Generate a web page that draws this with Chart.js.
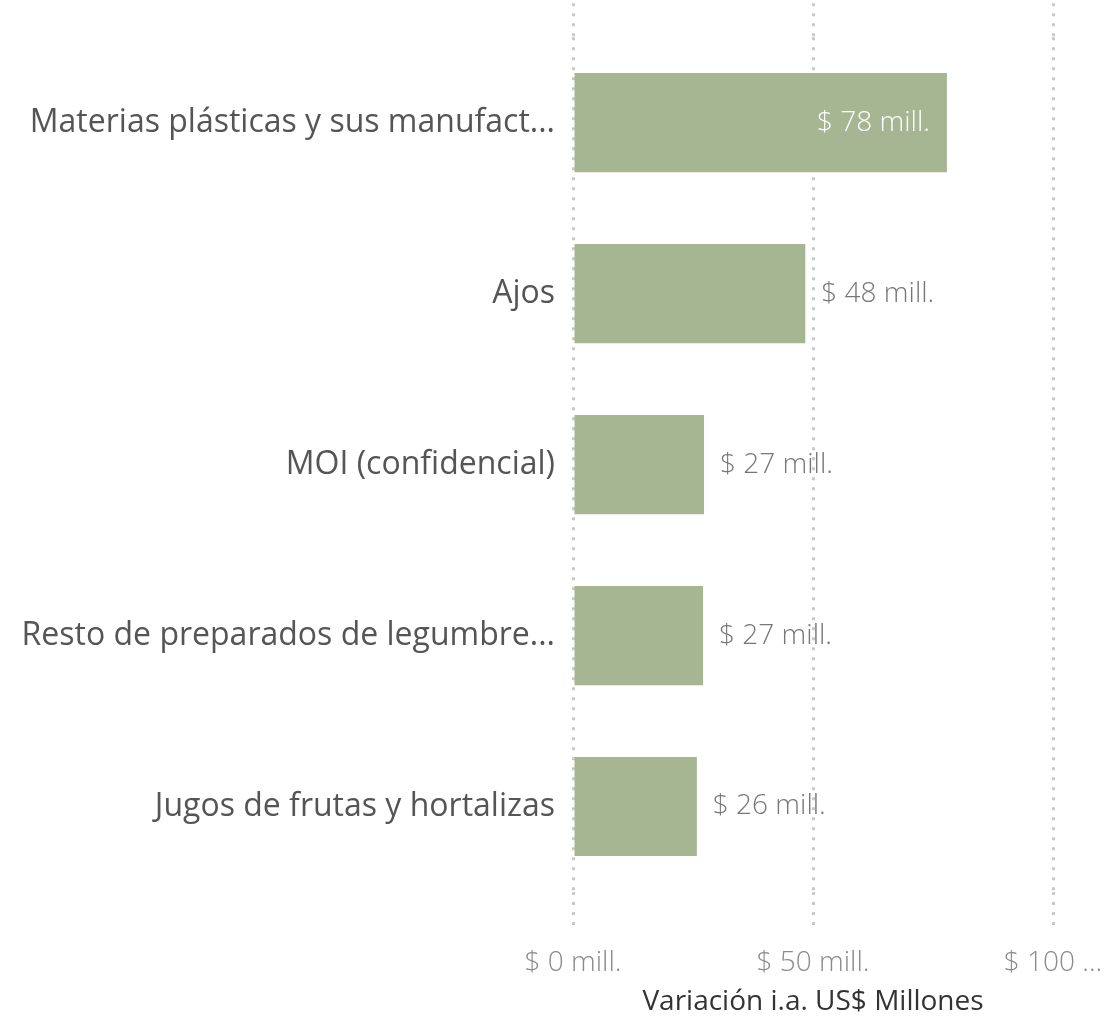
<!DOCTYPE html>
<html>
<head>
<meta charset="utf-8">
<script src="https://cdn.jsdelivr.net/npm/chart.js@4"></script>
<style>
  html, body { margin: 0; padding: 0; background: #fff; }
  #wrap { width: 1107px; height: 1016px; position: relative; }
</style>
</head>
<body>
<div id="wrap"><canvas id="chart"></canvas></div>
<script>
const categories = [
  "Materias plásticas y sus manufact...",
  "Ajos",
  "MOI (confidencial)",
  "Resto de preparados de legumbre...",
  "Jugos de frutas y hortalizas",
];
const values = [77.9, 48.4, 27.3, 27.1, 25.8];
const xTickValues = [0, 50, 100];
const xTickLabels = ["$ 0 mill.", "$ 50 mill.", "$ 100 ..."];
const axisTitle = "Variación i.a. US$ Millones";

const FONT = "Open Sans";
const BAR_COLOR = "#A6B592";
const GRID_COLOR = "#c9c9c9";
const DASH = [3, 7];

function fmtLabel(v) {
  return "$ " + Math.round(v) + " mill.";
}

// draws the "$ xx mill." labels next to / inside the bars
const barLabels = {
  id: "barLabels",
  afterDatasetsDraw(chart) {
    const ctx = chart.ctx;
    const meta = chart.getDatasetMeta(0);
    ctx.save();
    ctx.font = "300 28px '" + FONT + "'";
    ctx.textBaseline = "middle";
    meta.data.forEach((bar, i) => {
      const v = values[i];
      const text = fmtLabel(v);
      if (v >= 60) {
        ctx.fillStyle = "#ffffff";
        ctx.textAlign = "right";
        ctx.fillText(text, bar.x - 17, bar.y);
      } else {
        ctx.fillStyle = "#777777";
        ctx.textAlign = "left";
        ctx.fillText(text, bar.x + 16, bar.y);
      }
    });
    ctx.restore();
  },
};

const ctx = document.getElementById("chart").getContext("2d");

new Chart(ctx, {
  type: "bar",
  plugins: [barLabels],
  data: {
    labels: categories,
    datasets: [
      {
        data: values,
        backgroundColor: BAR_COLOR,
        borderWidth: 0,
        categoryPercentage: 1,
        barPercentage: 0.58,
      },
    ],
  },
  options: {
    indexAxis: "y",
    responsive: true,
    maintainAspectRatio: false,
    animation: false,
    layout: {
      padding: { top: 0, right: 54, bottom: 0, left: 0 },
    },
    plugins: {
      legend: { display: false },
      tooltip: { enabled: false },
    },
    scales: {
      x: {
        position: "bottom",
        min: 0,
        max: 100,
        afterBuildTicks: (scale) => {
          scale.ticks = xTickValues.map((v) => ({ value: v }));
        },
        afterFit: (scale) => {
          // last tick label is allowed to run into the page edge
          scale.paddingRight = 0;
          scale.height = 124;
        },
        grid: {
          display: true,
          drawOnChartArea: true,
          drawTicks: true,
          tickLength: 40,
          color: GRID_COLOR,
          lineWidth: 3,
          tickBorderDash: DASH,
        },
        border: { display: false, dash: DASH },
        ticks: {
          padding: 14,
          color: "#8a8a8a",
          font: { family: FONT, size: 28, weight: "300" },
          callback: (v, i) => xTickLabels[i],
        },
        title: {
          display: true,
          text: axisTitle,
          color: "#333333",
          padding: { top: 0, bottom: 0 },
          font: { family: FONT, size: 28, lineHeight: 1 },
        },
      },
      xTop: {
        position: "top",
        min: 0,
        max: 100,
        afterBuildTicks: (scale) => {
          scale.ticks = xTickValues.map((v) => ({ value: v }));
        },
        afterFit: (scale) => {
          scale.paddingRight = 0;
        },
        grid: {
          display: true,
          drawOnChartArea: false,
          drawTicks: true,
          tickLength: 34,
          color: GRID_COLOR,
          lineWidth: 3,
          tickBorderDash: DASH,
        },
        border: { display: false, dash: DASH },
        ticks: { display: false },
      },
      y: {
        afterFit: (scale) => {
          scale.width = 573;
        },
        grid: { display: false, drawTicks: false },
        border: { display: false },
        ticks: {
          padding: 18,
          color: "#555555",
          font: { family: FONT, size: 32 },
        },
      },
    },
  },
});
</script>
</body>
</html>
